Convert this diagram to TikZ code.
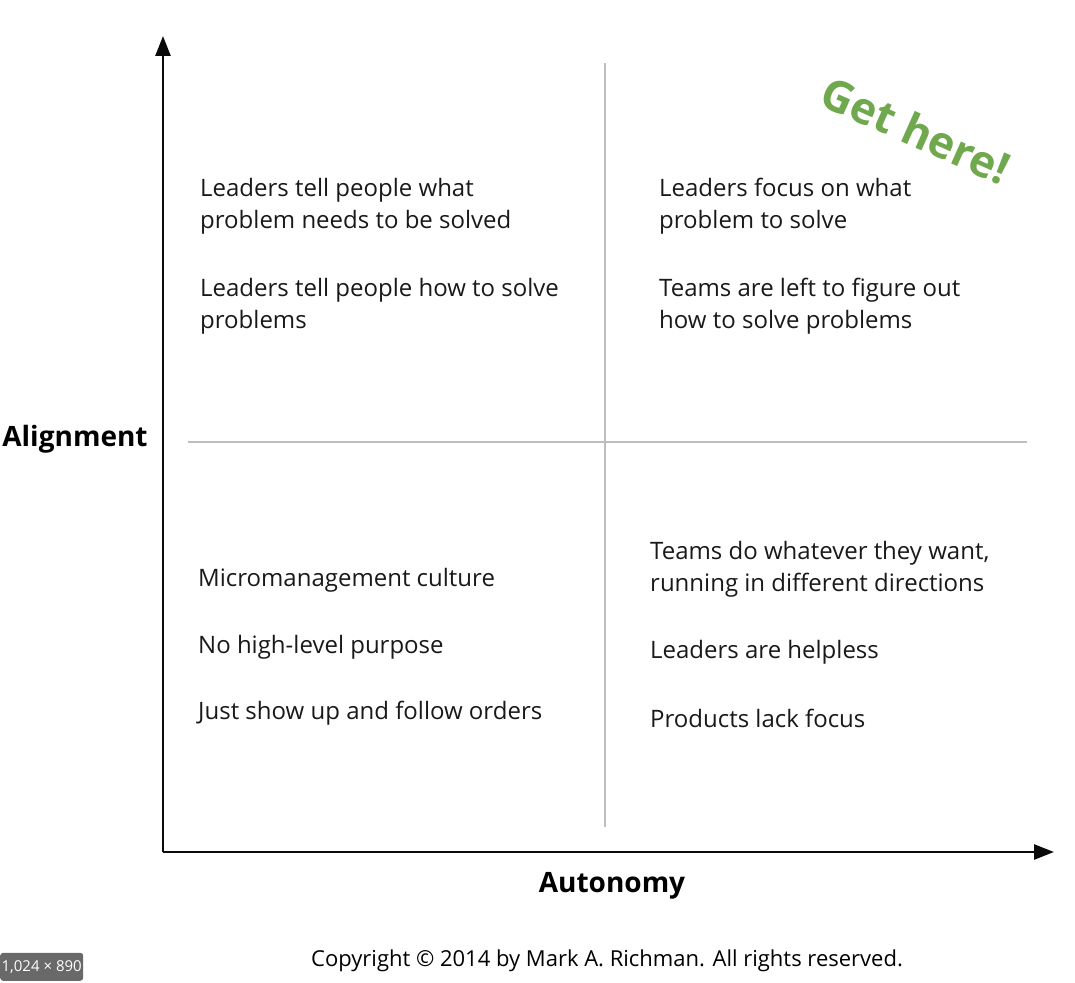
\documentclass[tikz,border=0pt]{standalone}
\usepackage{fontspec}
\setmainfont{Open Sans}
\usepackage{tikz}
\usetikzlibrary{arrows.meta,positioning}
\definecolor{axisBlack}{RGB}{10,10,10}
\definecolor{gridGray} {RGB}{190,190,190}
\definecolor{hereGreen}{RGB}{112,168,77}
\definecolor{badgeGray}{RGB}{105,105,105}

\begin{document}
\begin{tikzpicture}[x=1pt,y=-1pt,
          txt/.style={anchor=west,align=left,inner sep=0pt,
                      font=\fontsize{24}{32}\selectfont,text=black!90},
          lab/.style={inner sep=0pt,font=\fontsize{28}{30}\selectfont\bfseries},
          axis/.style={draw=axisBlack,line width=2.6pt,-{Triangle[length=20pt,width=15pt]}},
          grid/.style={draw=gridGray,line width=2pt},
        ]
        \useasboundingbox (0,0) rectangle (1075,982);
        % axes
        \coordinate (o)  at (163,852);
        \coordinate (ty) at (163,36);
        \coordinate (tx) at (1054,852);
        \draw[axis] (o) -- (ty);
        \draw[axis] (o) -- (tx);
        % quadrant lines
        \coordinate (vt) at (605,63);
        \coordinate (vb) at (605,827);
        \coordinate (hl) at (188,442);
        \coordinate (hr) at (1027,442);
        \draw[grid] (vt) -- (vb);
        \draw[grid] (hl) -- (hr);
        % axis labels
        \node[lab] (align) at (75,439){Alignment};
        \node[lab] (auton) at (612,886){Autonomy};
        % top left
        \node[txt] (tl1) at (200,206){Leaders tell people what\\problem needs to be solved};
        \node[txt] (tl2) at (200,306){Leaders tell people how to solve\\problems};
        % top right
        \node[txt] (tr1) at (659,206){Leaders focus on what\\problem to solve};
        \node[txt] (tr2) at (659,306){Teams are left to figure out\\how to solve problems};
        % bottom left
        \node[txt] (bl1) at (198,580){Micromanagement culture};
        \node[txt] (bl2) at (198,647){No high-level purpose};
        \node[txt] (bl3) at (198,713){Just show up and follow orders};
        % bottom right
        \node[txt] (br1) at (650,569){Teams do whatever they want,\\running in different directions};
        \node[txt] (br2) at (650,652){Leaders are helpless};
        \node[txt] (br3) at (650,718){Products lack focus};
        % get here
        \node[font=\fontsize{44}{44}\selectfont\bfseries,text=hereGreen,
              rotate=-24,inner sep=0pt] (here) at (916,130){Get here!};
        % copyright
        \node[font=\fontsize{22}{24}\selectfont,inner sep=0pt] (copy) at (607,961)
             {Copyright \textcopyright{} 2014 by Mark A. Richman. All rights reserved.};
        % size badge
        \node[fill=badgeGray,text=white,rounded corners=3pt,anchor=south west,
              minimum width=83pt,minimum height=28pt,inner sep=0pt,
              font=\fontsize{15}{16}\selectfont] (badge) at (0,981){1,024 × 890};
      \end{tikzpicture}
\end{document}
